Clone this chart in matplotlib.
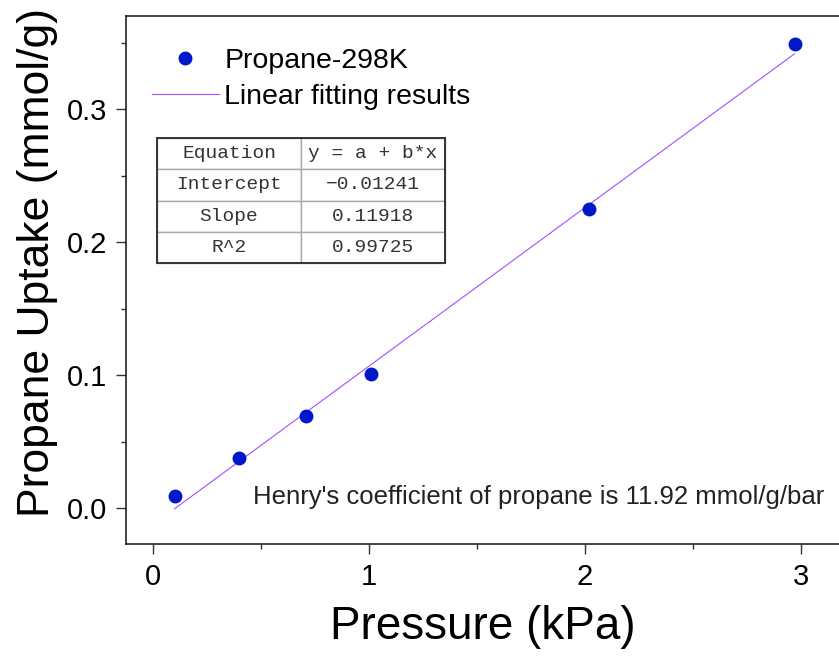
import numpy as np
import matplotlib
matplotlib.use('Agg')
import matplotlib.pyplot as plt
from matplotlib.patches import Rectangle
from matplotlib.lines import Line2D

# data
pressure = [0.10, 0.40, 0.71, 1.01, 2.02, 2.97]
uptake = [0.009, 0.038, 0.069, 0.101, 0.225, 0.349]
intercept = -0.01241
slope = 0.11918
table_rows = [['Equation', 'y = a + b*x'],
              ['Intercept', '\u22120.01241'],
              ['Slope', '0.11918'],
              ['R^2', '0.99725']]
xticks = [0, 1, 2, 3]
yticks = [0.0, 0.1, 0.2, 0.3]

plt.rcParams['font.family'] = ['Liberation Sans', 'DejaVu Sans']

fig = plt.figure(figsize=(8.39, 6.61), dpi=100)
ax = fig.add_axes([0.1502, 0.177, 0.8498, 0.7988])

ax.plot(pressure, uptake, 'o', color='#0018C8', markersize=9, zorder=3)
xf = np.array([pressure[0], pressure[-1]])
ax.plot(xf, intercept + slope * xf, '-', color='#A050FF', lw=0.8, zorder=2)

ax.set_xlim(-0.125, 3.176)
ax.set_ylim(-0.027, 0.370)
ax.set_xticks(xticks)
ax.set_xticklabels([str(t) for t in xticks])
ax.set_xticks(np.arange(0, 3.5, 0.5), minor=True)
ax.set_yticks(yticks)
ax.set_yticklabels(['%.1f' % t for t in yticks])
ax.set_yticks(np.arange(0, 0.36, 0.05), minor=True)
ax.tick_params(which='major', direction='out', length=7.5, width=1, labelsize=21,
               color='#333333', pad=6)
ax.tick_params(which='minor', direction='out', length=3.5, width=1, color='#333333')
ax.spines['right'].set_visible(False)
for s in ['left', 'bottom', 'top']:
    ax.spines[s].set_linewidth(1.2)
    ax.spines[s].set_color('#222222')

ax.set_xlabel('Pressure (kPa)', fontsize=33, labelpad=10)
ax.set_ylabel('Propane Uptake (mmol/g)', fontsize=32)
ax.yaxis.set_label_coords(-0.095, 0.534)

handles = [Line2D([], [], marker='o', ls='none', color='#0018C8', markersize=9),
           Line2D([], [], color='#A050FF', lw=0.8)]
ax.legend(handles, ['Propane-298K', 'Linear fitting results'], loc='upper left',
          bbox_to_anchor=(0.036, 0.94), frameon=False, fontsize=20.5,
          handlelength=2.35, handletextpad=0.2, labelspacing=0.35,
          borderpad=0, borderaxespad=0)

tb = ax.table(cellText=table_rows, cellLoc='center', colWidths=[0.5, 0.5],
              bbox=[0.0435, 0.532, 0.404, 0.237])
tb.auto_set_font_size(False)
for (r, c), cell in tb.get_celld().items():
    cell.set_edgecolor('#aaaaaa')
    cell.set_linewidth(1)
    cell.get_text().set_fontfamily('Liberation Mono')
    cell.get_text().set_fontsize(14)
    cell.get_text().set_color('#333333')
ax.add_patch(Rectangle((0.0435, 0.532), 0.404, 0.237, transform=ax.transAxes,
                       fill=False, edgecolor='#333333', lw=1.4, zorder=10))

ax.text(0.178, 0.089, "Henry's coefficient of propane is 11.92 mmol/g/bar",
        transform=ax.transAxes, fontsize=18.5, va='center', ha='left', color='#222222')

fig.savefig('out.png', dpi=100)
